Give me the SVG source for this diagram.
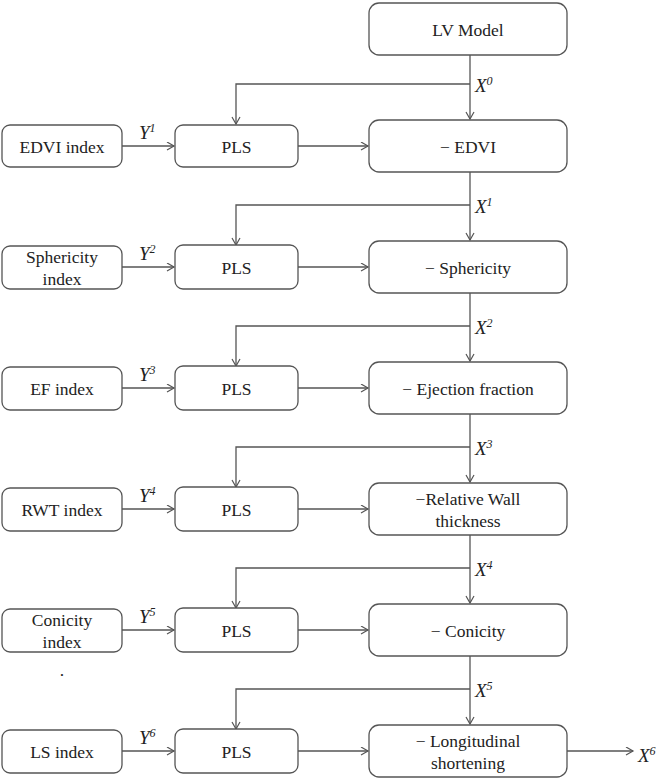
<svg xmlns="http://www.w3.org/2000/svg" width="661" height="781" viewBox="0 0 661 781" font-family="Liberation Serif, Times New Roman, DejaVu Serif, Noto Serif, serif">
<style>
.box{fill:#fff;stroke:#555;stroke-width:1.3}
.t{font-size:17.5px;fill:#222;text-anchor:middle}
.v{font-size:19px;font-style:italic;fill:#222}
.s{font-size:12px}
.c{fill:none;stroke:#555;stroke-width:1.3}
</style>
<defs>
<marker id="ah" markerWidth="10" markerHeight="10" refX="8" refY="4.5" orient="auto" markerUnits="userSpaceOnUse">
<path d="M1,0.5 L8,4.5 L1,8.5" fill="none" stroke="#555" stroke-width="1.2"/>
</marker>
</defs>
<rect width="661" height="781" fill="#fff"/>
<g id="connectors">
<path class="c" d="M470,55 V119" marker-end="url(#ah)"/>
<path class="c" d="M470,84 H236 V124" marker-end="url(#ah)"/>
<path class="c" d="M122,146 H174" marker-end="url(#ah)"/>
<path class="c" d="M298,146 H368" marker-end="url(#ah)"/>
<path class="c" d="M470,172 V240" marker-end="url(#ah)"/>
<path class="c" d="M470,205 H236 V245" marker-end="url(#ah)"/>
<path class="c" d="M122,267 H174" marker-end="url(#ah)"/>
<path class="c" d="M298,267 H368" marker-end="url(#ah)"/>
<path class="c" d="M470,293 V361" marker-end="url(#ah)"/>
<path class="c" d="M470,326 H236 V366" marker-end="url(#ah)"/>
<path class="c" d="M122,388 H174" marker-end="url(#ah)"/>
<path class="c" d="M298,388 H368" marker-end="url(#ah)"/>
<path class="c" d="M470,414 V482" marker-end="url(#ah)"/>
<path class="c" d="M470,447 H236 V487" marker-end="url(#ah)"/>
<path class="c" d="M122,509 H174" marker-end="url(#ah)"/>
<path class="c" d="M298,509 H368" marker-end="url(#ah)"/>
<path class="c" d="M470,535 V603" marker-end="url(#ah)"/>
<path class="c" d="M470,568 H236 V608" marker-end="url(#ah)"/>
<path class="c" d="M122,630 H174" marker-end="url(#ah)"/>
<path class="c" d="M298,630 H368" marker-end="url(#ah)"/>
<path class="c" d="M470,656 V724" marker-end="url(#ah)"/>
<path class="c" d="M470,689 H236 V729" marker-end="url(#ah)"/>
<path class="c" d="M122,751 H174" marker-end="url(#ah)"/>
<path class="c" d="M298,751 H368" marker-end="url(#ah)"/>
<path class="c" d="M567,751 H633" marker-end="url(#ah)"/>
</g>
<g id="labels">
<text class="v" x="475" y="92">X<tspan class="s" dy="-7">0</tspan></text>
<text class="v" x="475" y="213">X<tspan class="s" dy="-7">1</tspan></text>
<text class="v" x="475" y="334">X<tspan class="s" dy="-7">2</tspan></text>
<text class="v" x="475" y="455">X<tspan class="s" dy="-7">3</tspan></text>
<text class="v" x="475" y="576">X<tspan class="s" dy="-7">4</tspan></text>
<text class="v" x="475" y="697">X<tspan class="s" dy="-7">5</tspan></text>
<text class="v" x="638" y="762">X<tspan class="s" dy="-7">6</tspan></text>
<text class="v" x="139" y="139">Y<tspan class="s" dy="-7">1</tspan></text>
<text class="v" x="139" y="260">Y<tspan class="s" dy="-7">2</tspan></text>
<text class="v" x="139" y="381">Y<tspan class="s" dy="-7">3</tspan></text>
<text class="v" x="139" y="502">Y<tspan class="s" dy="-7">4</tspan></text>
<text class="v" x="139" y="623">Y<tspan class="s" dy="-7">5</tspan></text>
<text class="v" x="139" y="744">Y<tspan class="s" dy="-7">6</tspan></text>
<text class="t" x="62" y="676">.</text>
</g>
<g id="lv-model"><rect class="box" x="369" y="3" width="198" height="52" rx="10"/><text class="t" x="468" y="36">LV Model</text></g>
<g id="edvi-index"><rect class="box" x="2" y="125" width="120" height="42" rx="8"/><text class="t" x="62" y="152.5">EDVI index</text></g>
<g id="pls-1"><rect class="box" x="175" y="125" width="123" height="42" rx="8"/><text class="t" x="236.5" y="152.5">PLS</text></g>
<g id="edvi"><rect class="box" x="369" y="120" width="198" height="52" rx="10"/><text class="t" x="468" y="152.5">− EDVI</text></g>
<g id="sphericity-index"><rect class="box" x="2" y="246" width="120" height="43" rx="8"/><text class="t" x="62" y="262.5">Sphericity</text><text class="t" x="62" y="284.5">index</text></g>
<g id="pls-2"><rect class="box" x="175" y="245" width="123" height="44" rx="8"/><text class="t" x="236.5" y="273.5">PLS</text></g>
<g id="sphericity"><rect class="box" x="369" y="241" width="198" height="52" rx="10"/><text class="t" x="468" y="273.5">− Sphericity</text></g>
<g id="ef-index"><rect class="box" x="2" y="367" width="120" height="43" rx="8"/><text class="t" x="62" y="394.5">EF index</text></g>
<g id="pls-3"><rect class="box" x="175" y="366" width="123" height="44" rx="8"/><text class="t" x="236.5" y="394.5">PLS</text></g>
<g id="ejection-fraction"><rect class="box" x="369" y="362" width="198" height="52" rx="10"/><text class="t" x="468" y="394.5">− Ejection fraction</text></g>
<g id="rwt-index"><rect class="box" x="2" y="488" width="120" height="43" rx="8"/><text class="t" x="62" y="515.5">RWT index</text></g>
<g id="pls-4"><rect class="box" x="175" y="487" width="123" height="44" rx="8"/><text class="t" x="236.5" y="515.5">PLS</text></g>
<g id="relative-wall-thickness"><rect class="box" x="369" y="483" width="198" height="52" rx="10"/><text class="t" x="468" y="505">−Relative Wall</text><text class="t" x="468" y="527">thickness</text></g>
<g id="conicity-index"><rect class="box" x="2" y="609" width="120" height="43" rx="8"/><text class="t" x="62" y="625.5">Conicity</text><text class="t" x="62" y="647.5">index</text></g>
<g id="pls-5"><rect class="box" x="175" y="608" width="123" height="44" rx="8"/><text class="t" x="236.5" y="636.5">PLS</text></g>
<g id="conicity"><rect class="box" x="369" y="604" width="198" height="52" rx="10"/><text class="t" x="468" y="636.5">− Conicity</text></g>
<g id="ls-index"><rect class="box" x="2" y="730" width="120" height="43" rx="8"/><text class="t" x="62" y="757.5">LS index</text></g>
<g id="pls-6"><rect class="box" x="175" y="729" width="123" height="44" rx="8"/><text class="t" x="236.5" y="757.5">PLS</text></g>
<g id="longitudinal-shortening"><rect class="box" x="369" y="725" width="198" height="52" rx="10"/><text class="t" x="468" y="747">− Longitudinal</text><text class="t" x="468" y="769">shortening</text></g>
</svg>
